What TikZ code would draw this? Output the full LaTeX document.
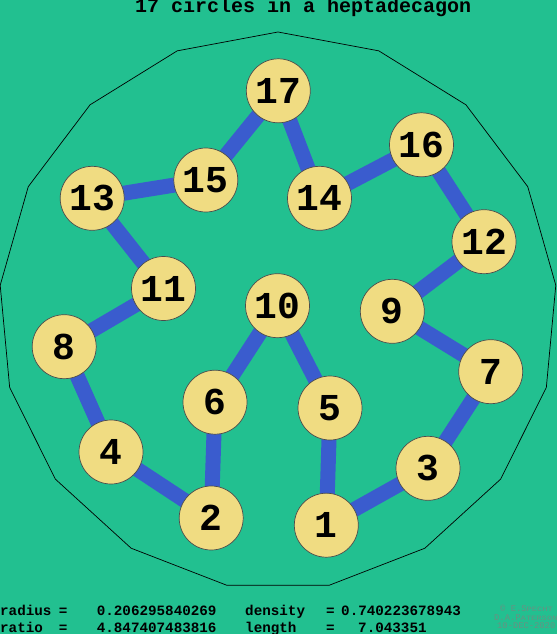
\documentclass[tikz,border=0pt]{standalone}
\usepackage{fontspec}
\setmonofont{Liberation Mono}
\usepackage{graphicx}
\usepackage{tikz}
\usetikzlibrary{shapes.geometric,backgrounds}
\definecolor{sea}{RGB}{34,192,144}
\definecolor{buff}{RGB}{240,220,130}
\definecolor{royal}{RGB}{58,92,206}
\definecolor{faded}{RGB}{105,145,130}
\newcommand{\smallcap}[1]{\scalebox{1}[0.75]{#1}}

\begin{document}
\begin{tikzpicture}[x=1pt, y=-1pt,
    disk/.style={circle, draw=black!70, line width=0.7pt, fill=buff, minimum size=64pt, inner sep=0pt, font=\fontsize{38}{38}\selectfont\ttfamily\bfseries},
    bond/.style={line width=15pt, royal},
    stat/.style={anchor=base west, inner sep=0pt, font=\fontsize{14.25}{14.25}\selectfont\ttfamily\bfseries},
    credit/.style={anchor=base west, inner sep=0pt, faded, font=\fontsize{8.8}{8.8}\selectfont\ttfamily}]
\useasboundingbox (0,0) rectangle (557,634);
% Draw circles
\foreach \n/\x/\y in {1/326.3/525.2, 2/211.2/518, 3/428/468.3, 4/111/452, 5/330/408, 6/215/402.2, 7/490.7/371.7, 8/64.2/346.7, 9/392.3/311.3, 10/277.5/305.7, 11/163.5/288.5, 12/484/241.7, 13/92.2/198.3, 14/319.5/198.3, 15/205.8/180, 16/421.5/144.8, 17/278.3/90.8}
    \node[disk] (c\n) at (\x,\y) {\n};
% Draw background, heptadecagon and bonds
\begin{scope}[on background layer]
\fill[sea] (0,0) rectangle (557,634);
\node[regular polygon, regular polygon sides=17, minimum size=558pt, inner sep=0pt, draw, line width=0.7pt] (hepta) at (278,311) {};
\foreach \a/\b in {17/15, 17/14, 15/13, 14/16, 16/12, 13/11, 12/9, 11/8, 10/6, 10/5, 9/7, 8/4, 7/3, 6/2, 5/1, 4/2, 1/3}
    \draw[bond] (c\a.center) -- (c\b.center);
\end{scope}
% Draw title
\node[font=\fontsize{20}{20}\selectfont\ttfamily\bfseries, anchor=base west, inner sep=0pt] (title) at (135,12.5) {17 circles in a heptadecagon};
% Draw figures
\node[stat] (radius) at (0,615) {radius};
\node[stat] (radeq) at (58.6,615) {=};
\node[stat] (radval) at (96.6,615) {0.206295840269};
\node[stat] (density) at (245,615) {density};
\node[stat] (deneq) at (326,615) {=};
\node[stat] (denval) at (341,615) {0.740223678943};
\node[stat] (ratio) at (0,632) {ratio};
\node[stat] (rateq) at (58.6,632) {=};
\node[stat] (ratval) at (96.6,632) {4.847407483816};
\node[stat] (length) at (245,632) {length};
\node[stat] (leneq) at (326,632) {=};
\node[stat] (lenval) at (358,632) {7.043351};
% Draw credits
\node[credit] (copy) at (500,611) {© E.S\smallcap{PECHT} \&};
\node[credit] (names) at (494,620.5) {D.A.P\smallcap{ATERSON}};
\node[credit] (date) at (497,628.5) {10-DEC-2020};
\end{tikzpicture}
\end{document}
